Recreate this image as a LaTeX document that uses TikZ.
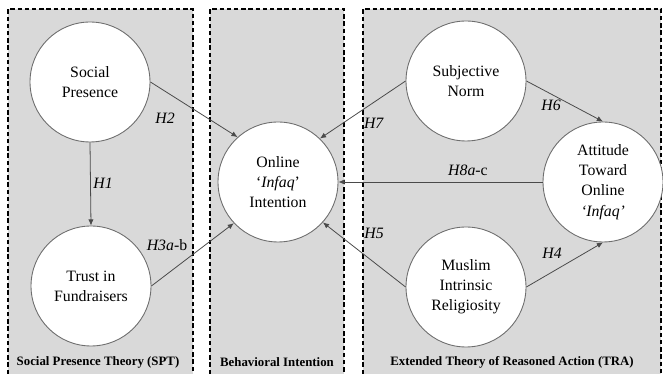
\documentclass[tikz,border=0pt]{standalone}
\usepackage{fontspec}
\setmainfont{Liberation Serif}
\usetikzlibrary{arrows.meta}
\definecolor{panelgray}{HTML}{D9D9D9}
\definecolor{linegray}{HTML}{4A4A4A}
\definecolor{ringgray}{HTML}{6E6E6E}
\tikzset{construct/.style={circle,draw=ringgray,fill=white,line width=0.5pt,
    minimum size=2.4cm,inner sep=0pt,align=center,
    font=\fontsize{9}{11.5}\selectfont}}
\tikzset{hyp/.style={-{Latex[length=3.5pt,width=3pt]},draw=linegray,line width=0.45pt}}
\tikzset{hlabel/.style={inner sep=1pt,font=\fontsize{9}{11}\selectfont}}
\tikzset{panelborder/.style={dash pattern=on 2.5pt off 1.6pt,line width=0.6pt}}
\tikzset{theory/.style={font=\fontsize{7.3}{9}\selectfont\bfseries}}

\begin{document}
\begin{tikzpicture}[x=0.02cm,y=-0.02cm]
\useasboundingbox (0,0) rectangle (663,374);
% panels
\fill[panelgray] (8,9) rectangle (193,374);
\fill[panelgray] (210,9) rectangle (344,374);
\fill[panelgray] (363,9) rectangle (661,374);
\draw[panelborder] (8,374) |- (193,9) -- (193,374);
\draw[panelborder] (210,374) |- (344,9) -- (344,374);
\draw[panelborder] (363,374) |- (661,9) -- (661,374);
%
\node (sp) [construct] at (90,82) {Social\\Presence};
\node (tr) [construct] at (91,286) {Trust in\\Fundraisers};
\node (on) [construct] at (278,182) {Online\\`\textit{Infaq}'\\Intention};
\node (sn) [construct] at (466,81) {Subjective\\Norm};
\node (att) [construct] at (603,182) {Attitude\\Toward\\Online\\\textit{`Infaq'}};
\node (mu) [construct] at (466,287) {Muslim\\Intrinsic\\Religiosity};
%
\draw[hyp] (sp.south) -- (tr.north);
\draw[hyp] (sp.east) -- (on.132);
\draw[hyp] (tr.east) -- (on.223);
\draw[hyp] (sn.west) -- (on.46);
\draw[hyp] (mu.west) -- (on.318);
\draw[hyp] (att.west) -- (on.east);
\draw[hyp] (sn.east) -- (att.north);
\draw[hyp] (mu.east) -- (att.south);
%
\node (h1) [hlabel] at (103,183) {\textit{H1}};
\node (h2) [hlabel] at (165,118) {\textit{H2}};
\node (h3) [hlabel] at (167,245) {\textit{H3a}-b};
\node (h4) [hlabel] at (552,253) {\textit{H4}};
\node (h5) [hlabel] at (374,233) {\textit{H5}};
\node (h6) [hlabel] at (551,105) {\textit{H6}};
\node (h7) [hlabel] at (374,123) {\textit{H7}};
\node (h8) [hlabel] at (468,170) {\textit{H8a}-c};
%
\node (spt) [theory] at (98,362) {Social Presence Theory (SPT)};
\node (bi) [theory] at (277,362) {Behavioral Intention};
\node (tra) [theory] at (512,362) {Extended Theory of Reasoned Action (TRA)};
\end{tikzpicture}
\end{document}
